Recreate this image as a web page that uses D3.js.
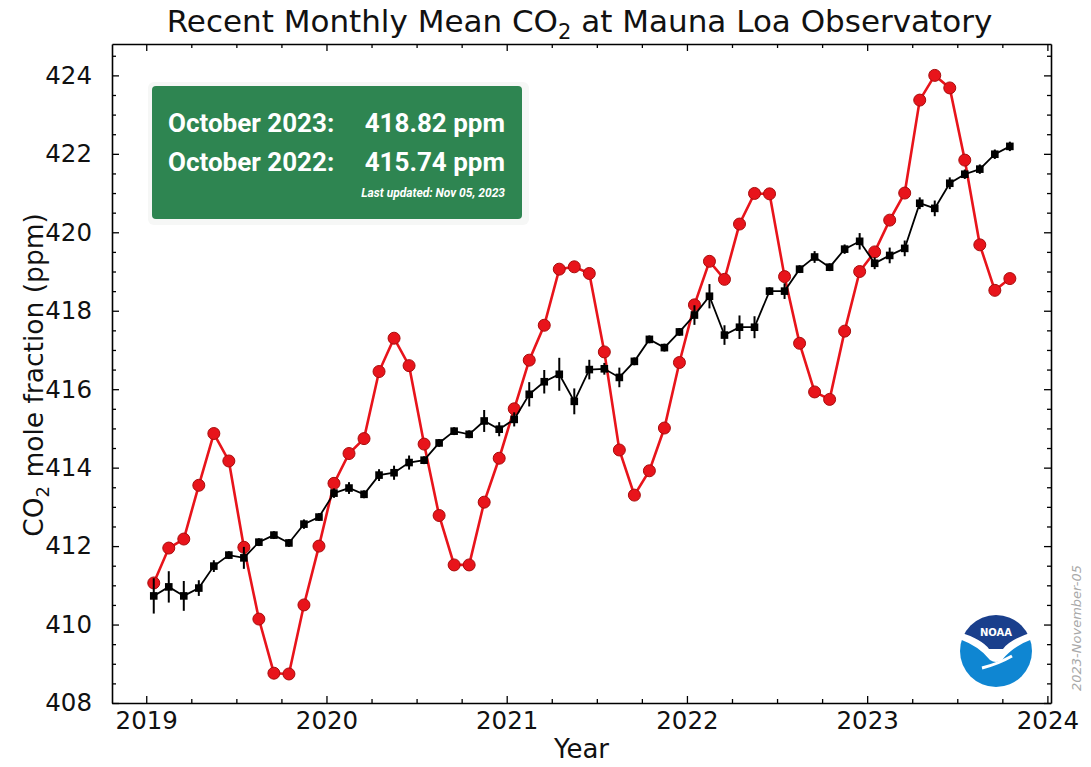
<!DOCTYPE html>
<html>
<head>
<meta charset="utf-8">
<script src="https://cdn.jsdelivr.net/npm/d3@7"></script>
<style>
  html, body { margin: 0; padding: 0; background: #fff; }
  svg { display: block; }
</style>
</head>
<body>
<svg id="chart" width="1091" height="767"></svg>
<script>
// ---------------- data ----------------
const startYear = 2019;
// monthly mean CO2 (ppm), Jan 2019 .. Oct 2023
const monthlyMean = [
  411.06, 411.95, 412.18, 413.55, 414.87, 414.17, 411.97, 410.14, 408.76, 408.74, 410.50, 412.00,
  413.60, 414.36, 414.74, 416.45, 417.30, 416.60, 414.60, 412.78, 411.52, 411.52, 413.12, 414.24,
  415.50, 416.74, 417.63, 419.06, 419.12, 418.95, 416.95, 414.45, 413.30, 413.92, 415.01, 416.68,
  418.15, 419.26, 418.80, 420.21, 420.99, 420.98, 418.87, 417.17, 415.93, 415.74, 417.48, 419.00,
  419.50, 420.31, 421.00, 423.37, 424.00, 423.68, 421.84, 419.68, 418.52, 418.82
];
// seasonally adjusted CO2 (ppm)
const deseasonalized = [
  410.73, 410.96, 410.73, 410.93, 411.49, 411.77, 411.70, 412.10, 412.28, 412.08, 412.56, 412.74,
  413.35, 413.48, 413.32, 413.81, 413.87, 414.13, 414.19, 414.63, 414.93, 414.85, 415.19, 414.98,
  415.23, 415.87, 416.19, 416.38, 415.69, 416.50, 416.52, 416.30, 416.71, 417.27, 417.06, 417.46,
  417.89, 418.37, 417.38, 417.58, 417.58, 418.50, 418.50, 419.06, 419.37, 419.11, 419.57, 419.77,
  419.21, 419.41, 419.59, 420.74, 420.61, 421.25, 421.48, 421.61, 421.99, 422.19
];
// uncertainty of the seasonally adjusted values (ppm)
const uncertainty = [
  0.45, 0.40, 0.38, 0.20, 0.15, 0.10, 0.28, 0.10, 0.10, 0.10, 0.12, 0.10,
  0.12, 0.15, 0.10, 0.15, 0.18, 0.18, 0.10, 0.10, 0.10, 0.10, 0.28, 0.18,
  0.18, 0.31, 0.30, 0.42, 0.33, 0.25, 0.15, 0.25, 0.10, 0.10, 0.10, 0.10,
  0.25, 0.31, 0.25, 0.30, 0.28, 0.10, 0.20, 0.10, 0.15, 0.10, 0.12, 0.21,
  0.15, 0.20, 0.20, 0.15, 0.20, 0.15, 0.12, 0.12, 0.12, 0.12
];
const xTickValues = [2019, 2020, 2021, 2022, 2023, 2024];
const yTickValues = [408, 410, 412, 414, 416, 418, 420, 422, 424];
const infoLines = [
  { label: "October 2023:", value: "418.82 ppm" },
  { label: "October 2022:", value: "415.74 ppm" }
];
const updatedText = "Last updated: Nov 05, 2023";
const stampText = "2023-November-05";

// ---------------- layout ----------------
const svg = d3.select("#chart");
const L = 112, R = 1051, T = 44, B = 703;
const MPL = "DejaVu Sans, sans-serif";
const WEB = "Roboto, sans-serif";

const x = d3.scaleLinear().domain([2018.81, 2024.02]).range([L, R]);
const y = d3.scaleLinear().domain([408, 424.8]).range([B, T]);

const rows = monthlyMean.map((v, i) => ({
  t: startYear + (i + 0.5) / 12,
  mm: v,
  ds: deseasonalized[i],
  unc: uncertainty[i]
}));

// ---------------- axes ----------------
const xMinor = d3.range(2018.75, 2024.01, 0.25).filter(v => Math.abs(v - Math.round(v)) > 1e-6 && v > 2018.81);
const yMinor = d3.range(408, 424.8, 0.5).filter(v => v % 2 !== 0);

function styleAxis(g) {
  g.selectAll(".domain").attr("stroke", "#000").attr("stroke-width", 1.6);
  g.selectAll(".tick line").attr("stroke", "#000").attr("stroke-width", 1.3);
  g.selectAll("text").style("font-family", MPL).attr("fill", "#111");
}

// bottom
svg.append("g").attr("transform", `translate(0,${B})`)
  .call(d3.axisBottom(x).tickValues(xTickValues).tickFormat(d3.format("d"))
        .tickSizeInner(-7).tickSizeOuter(0).tickPadding(9))
  .call(styleAxis)
  .selectAll("text").style("font-size", "24.5px");
svg.append("g").attr("transform", `translate(0,${B})`)
  .call(d3.axisBottom(x).tickValues(xMinor).tickFormat("").tickSizeInner(-4).tickSizeOuter(0))
  .call(styleAxis).select(".domain").remove();
// top
svg.append("g").attr("transform", `translate(0,${T})`)
  .call(d3.axisTop(x).tickValues(xTickValues).tickFormat("").tickSizeInner(-7).tickSizeOuter(0))
  .call(styleAxis);
svg.append("g").attr("transform", `translate(0,${T})`)
  .call(d3.axisTop(x).tickValues(xMinor).tickFormat("").tickSizeInner(-4).tickSizeOuter(0))
  .call(styleAxis).select(".domain").remove();
// left
svg.append("g").attr("transform", `translate(${L},0)`)
  .call(d3.axisLeft(y).tickValues(yTickValues).tickFormat(d3.format("d"))
        .tickSizeInner(-7).tickSizeOuter(0).tickPadding(20))
  .call(styleAxis)
  .selectAll("text").style("font-size", "24.5px");
svg.append("g").attr("transform", `translate(${L},0)`)
  .call(d3.axisLeft(y).tickValues(yMinor).tickFormat("").tickSizeInner(-4).tickSizeOuter(0))
  .call(styleAxis).select(".domain").remove();
// right
svg.append("g").attr("transform", `translate(${R},0)`)
  .call(d3.axisRight(y).tickValues(yTickValues).tickFormat("").tickSizeInner(-7).tickSizeOuter(0))
  .call(styleAxis);
svg.append("g").attr("transform", `translate(${R},0)`)
  .call(d3.axisRight(y).tickValues(yMinor).tickFormat("").tickSizeInner(-4).tickSizeOuter(0))
  .call(styleAxis).select(".domain").remove();

// ---------------- titles ----------------
const title = svg.append("text").attr("x", (L + R) / 2 - 2).attr("y", 32)
  .attr("text-anchor", "middle").style("font-family", MPL).style("font-size", "31px").attr("fill", "#111");
title.append("tspan").text("Recent Monthly Mean CO");
title.append("tspan").text("2").style("font-size", "21px").attr("dy", 7);
title.append("tspan").text(" at Mauna Loa Observatory").attr("dy", -7);

svg.append("text").attr("x", (L + R) / 2).attr("y", 758)
  .attr("text-anchor", "middle").style("font-family", MPL).style("font-size", "26px")
  .attr("fill", "#111").text("Year");

const yl = svg.append("text").attr("transform", "translate(43,375) rotate(-90)")
  .attr("text-anchor", "middle").style("font-family", MPL).style("font-size", "26.5px").attr("fill", "#111");
yl.append("tspan").text("CO");
yl.append("tspan").text("2").style("font-size", "18px").attr("dy", 6);
yl.append("tspan").text(" mole fraction (ppm)").attr("dy", -6);

svg.append("text").attr("transform", "translate(1081,628) rotate(-90)")
  .attr("text-anchor", "middle").style("font-family", MPL).style("font-size", "13px")
  .style("font-style", "italic").attr("fill", "#a8a8a8").text(stampText);

// ---------------- series ----------------
const red = "#e8141b";
svg.append("path").datum(rows)
  .attr("fill", "none").attr("stroke", red).attr("stroke-width", 2.6)
  .attr("d", d3.line().x(d => x(d.t)).y(d => y(d.mm)));
svg.append("g").selectAll("circle").data(rows).join("circle")
  .attr("cx", d => x(d.t)).attr("cy", d => y(d.mm)).attr("r", 6)
  .attr("fill", red).attr("stroke", "#a80c0c").attr("stroke-width", 1);

svg.append("path").datum(rows)
  .attr("fill", "none").attr("stroke", "#000").attr("stroke-width", 1.8)
  .attr("d", d3.line().x(d => x(d.t)).y(d => y(d.ds)));
svg.append("g").selectAll("line").data(rows).join("line")
  .attr("x1", d => x(d.t)).attr("x2", d => x(d.t))
  .attr("y1", d => y(d.ds - d.unc)).attr("y2", d => y(d.ds + d.unc))
  .attr("stroke", "#000").attr("stroke-width", 2);
svg.append("g").selectAll("rect").data(rows).join("rect")
  .attr("x", d => x(d.t) - 3.8).attr("y", d => y(d.ds) - 3.8)
  .attr("width", 7.6).attr("height", 7.6).attr("fill", "#000");

// ---------------- info box ----------------
svg.append("rect").attr("x", 148).attr("y", 82).attr("width", 381).attr("height", 143)
  .attr("rx", 6).attr("fill", "#f6f7f6");
svg.append("rect").attr("x", 152).attr("y", 86).attr("width", 370).attr("height", 133)
  .attr("rx", 4).attr("fill", "#2e8551");
infoLines.forEach((ln, i) => {
  svg.append("text").attr("x", 168).attr("y", 132 + i * 39)
    .style("font-family", WEB).style("font-weight", "bold")
    .style("font-size", "26px").attr("fill", "#fff").text(ln.label);
  svg.append("text").attr("x", 505).attr("y", 132 + i * 39).attr("text-anchor", "end")
    .style("font-family", WEB).style("font-weight", "bold")
    .style("font-size", "26px").attr("fill", "#fff").text(ln.value);
});
svg.append("text").attr("x", 505).attr("y", 197).attr("text-anchor", "end")
  .style("font-family", WEB).style("font-weight", "bold").style("font-style", "italic")
  .style("font-size", "12px").attr("fill", "#fff").text(updatedText);

// ---------------- NOAA logo ----------------
const cx = 996, cy = 651, r = 36;
const defs = svg.append("defs");
defs.append("clipPath").attr("id", "logoClip")
  .append("circle").attr("cx", cx).attr("cy", cy).attr("r", r);
const logo = svg.append("g").attr("clip-path", "url(#logoClip)");
logo.append("path").attr("fill", "#1a3f8c")
  .attr("d", `M${cx - 40},${cy - 40} L${cx + 40},${cy - 40} L${cx + 40},${cy - 20}
             Q${cx + 14},${cy - 12} ${cx + 7},${cy - 2} L${cx - 7},${cy - 2}
             Q${cx - 14},${cy - 12} ${cx - 40},${cy - 20} Z`);
logo.append("path").attr("fill", "#0f86d2")
  .attr("d", `M${cx - 40},${cy - 13} Q${cx - 18},${cy - 6} ${cx - 6},${cy + 9}
             Q${cx},${cy + 13} ${cx + 6},${cy + 9} Q${cx + 18},${cy - 6} ${cx + 40},${cy - 13}
             L${cx + 40},${cy + 40} L${cx - 40},${cy + 40} Z`);
logo.append("path").attr("fill", "none").attr("stroke", "#fff").attr("stroke-width", 3)
  .attr("d", `M${cx - 14},${cy + 17} Q${cx + 2},${cy + 13} ${cx + 16},${cy + 5}`);
svg.append("text").attr("x", cx).attr("y", cy - 15).attr("text-anchor", "middle")
  .style("font-family", MPL).style("font-weight", "bold")
  .style("font-size", "10px").attr("fill", "#fff").text("NOAA");
</script>
</body>
</html>
